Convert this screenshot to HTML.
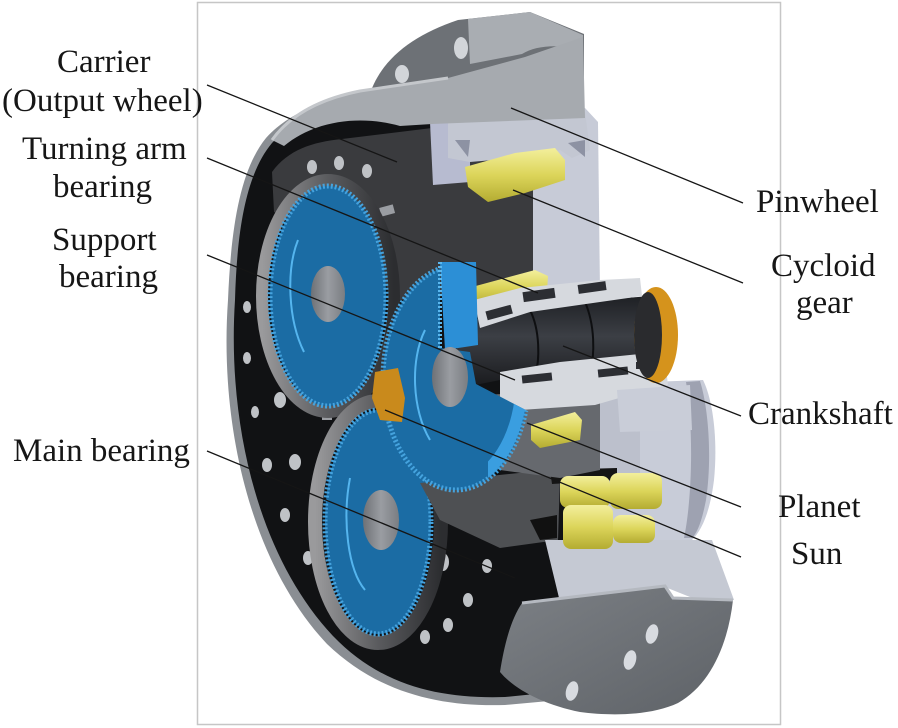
<!DOCTYPE html>
<html><head><meta charset="utf-8"><style>
html,body{margin:0;padding:0;background:#fff;}
svg{display:block;}
text{font-family:"Liberation Serif",serif;font-size:33px;fill:#161616;}
</style></head><body>
<svg width="898" height="728" viewBox="0 0 898 728" xmlns="http://www.w3.org/2000/svg">
<defs>
<linearGradient id="gy" x1="0" y1="0" x2="0" y2="1"><stop offset="0" stop-color="#f3ef9c"/><stop offset="0.5" stop-color="#dcd55a"/><stop offset="1" stop-color="#b4ac32"/></linearGradient>
<linearGradient id="gring" x1="0" y1="0" x2="1" y2="0"><stop offset="0" stop-color="#9a9a9c"/><stop offset="0.5" stop-color="#5a5b5e"/><stop offset="1" stop-color="#2c2d30"/></linearGradient>
<linearGradient id="gcr" x1="0" y1="0" x2="0" y2="1"><stop offset="0" stop-color="#1e2024"/><stop offset="0.45" stop-color="#3c3f45"/><stop offset="1" stop-color="#1a1b1e"/></linearGradient>
<linearGradient id="ghub" x1="0" y1="0" x2="1" y2="0"><stop offset="0" stop-color="#6e7176"/><stop offset="0.5" stop-color="#9a9da2"/><stop offset="1" stop-color="#7a7d82"/></linearGradient>
<linearGradient id="gfl" x1="0" y1="0" x2="1" y2="1"><stop offset="0" stop-color="#7c8085"/><stop offset="1" stop-color="#5e6267"/></linearGradient>
<clipPath id="midclip"><path d="M350,250 L440,250 L440,348 L470,352 L476,384 L545,420 L545,520 L350,520 Z"/></clipPath>
<clipPath id="rclip"><path d="M488,395 L545,395 L545,500 L488,500 Z"/></clipPath>
</defs>

<rect x="197.5" y="2.5" width="583" height="722" fill="#fff" stroke="#c6c6c6" stroke-width="1.5"/>

<!-- back top flange -->
<path d="M368,100 C378,62 410,36 458,20 L530,12 L584,34 L584,92 L368,108 Z" fill="#6d7176"/>
<ellipse cx="461" cy="48" rx="7" ry="11" fill="#d2d5d9"/>
<ellipse cx="402" cy="74" rx="7" ry="9" fill="#d2d5d9"/>
<path d="M468,19 L530,12 L583,35 L583,50 C560,44 536,45 522,54 L470,64 Z" fill="#a9adb2"/>

<!-- disk rim & face -->
<path d="M445,88 C358,86 296,104 266,138 C240,170 231,228 228,300 C219,426 251,563 327,644 C378,693 440,707 505,705 L560,700 L575,560 L575,130 Z" fill="#8a8e93"/>
<path d="M445,95 C362,93 302,110 272,143 C246,174 237,230 235,300 C227,423 258,556 333,636 C381,686 440,699 505,697 L555,692 L570,560 L570,135 Z" fill="#111214"/>

<!-- upper dark face -->
<path d="M272,172 C288,150 312,142 342,139 L432,128 L536,182 L536,296 L445,296 L400,300 L360,260 L274,212 Z" fill="#3a3b3e"/>

<!-- right light slab -->
<path d="M533,112 L585,108 L598,122 L600,292 L533,296 Z" fill="#c7cbd7"/>
<!-- lower right cylinder -->
<path d="M572,385 L703,380 C713,400 718,440 714,480 C710,512 702,530 692,540 L572,542 Z" fill="#c8ccd8"/>
<path d="M686,382 L700,381 C709,410 712,460 706,500 C702,520 698,532 692,538 L684,538 C692,500 694,430 686,382 Z" fill="#9ea2b1"/>
<path d="M572,385 L640,384 L640,500 L572,500 Z" fill="#bcc0cc"/>

<!-- holes -->
<g fill="#bfc2c6">
<ellipse cx="312" cy="167" rx="5" ry="7"/><ellipse cx="339" cy="163" rx="5" ry="7"/><ellipse cx="367" cy="171" rx="5" ry="7"/>
<ellipse cx="363" cy="222" rx="6" ry="8"/>
<ellipse cx="247" cy="307" rx="4" ry="6"/><ellipse cx="247" cy="358" rx="4" ry="6"/>
<ellipse cx="255" cy="412" rx="4" ry="6"/><ellipse cx="280" cy="400" rx="6" ry="8"/>
<ellipse cx="267" cy="465" rx="5" ry="7"/><ellipse cx="295" cy="462" rx="6" ry="8"/>
<ellipse cx="285" cy="515" rx="5" ry="7"/><ellipse cx="308" cy="558" rx="5" ry="7"/>
<ellipse cx="463" cy="518" rx="6" ry="9"/><ellipse cx="443" cy="562" rx="6" ry="9"/>
<ellipse cx="468" cy="600" rx="5" ry="7"/><ellipse cx="448" cy="625" rx="5" ry="7"/>
<ellipse cx="425" cy="637" rx="5" ry="7"/><ellipse cx="487" cy="566" rx="5" ry="7"/>
</g>
<rect x="380" y="206" width="14" height="9" fill="#9a9da2" transform="rotate(-15 387 210)"/>
<rect x="322" y="410" width="10" height="10" fill="#9a9da2"/>

<!-- upper-left gear -->
<ellipse cx="328" cy="296" rx="66" ry="116" fill="none" stroke="url(#gring)" stroke-width="12"/>
<ellipse cx="328" cy="296" rx="58" ry="110" fill="#1b6ca4" stroke="#45a3de" stroke-width="5" stroke-dasharray="2 2"/>
<path d="M298,240 C286,270 288,320 304,352" stroke="#55b5ee" stroke-width="2" fill="none"/>
<ellipse cx="328" cy="294" rx="17" ry="28" fill="url(#ghub)"/>

<!-- lower gear -->
<ellipse cx="378" cy="522" rx="63" ry="121" fill="none" stroke="url(#gring)" stroke-width="14"/>
<ellipse cx="378" cy="522" rx="53" ry="112" fill="#1b6ca4" stroke="#45a3de" stroke-width="5" stroke-dasharray="2 2"/>
<path d="M350,478 C342,520 348,570 365,590" stroke="#55b5ee" stroke-width="2" fill="none"/>
<ellipse cx="381" cy="520" rx="18" ry="30" fill="url(#ghub)"/>

<!-- lower carrier section -->
<path d="M420,483 L548,470 L560,478 L558,540 L500,548 L440,520 Z" fill="#4e5053"/>
<path d="M530,520 L557,515 L557,538 L540,540 Z" fill="#111"/>
<path d="M550,470 L617,468 L617,480 L552,484 Z" fill="#151515"/>

<!-- medium gray region -->
<path d="M480,395 L600,390 L600,470 L560,478 L500,470 Z" fill="#66696e"/>

<!-- lower housing top surface -->
<path d="M545,540 L712,540 L734,600 L700,601 L665,587 L560,602 Z" fill="#c5c9d3"/>

<!-- light strips under top housing -->
<path d="M430,122 L470,120 L470,182 L433,185 Z" fill="#b7bbd0"/>
<path d="M448,118 L585,112 L590,150 L572,158 L560,150 L540,156 L470,162 L448,158 Z" fill="#c3c7d2"/>
<path d="M455,140 L470,140 L468,157 Z" fill="#8d92a3"/>
<path d="M568,143 L585,140 L585,157 Z" fill="#8d92a3"/>

<!-- top housing -->
<path d="M272,140 C292,112 325,98 360,91 L448,78 L525,57 L583,37 L585,118 L432,124 L400,126 C365,116 318,118 284,146 Z" fill="#a6aaaf"/>
<path d="M272,140 C292,112 325,98 360,91 L448,78" fill="none" stroke="#c4c7cb" stroke-width="3"/>

<!-- yellow pins -->
<path d="M465,167 L515,153 L555,148 L565,160 L565,180 L525,193 L488,202 L468,187 Z" fill="url(#gy)"/>
<path d="M472,287 L535,270 L548,276 L547,292 L490,305 L474,303 Z" fill="url(#gy)"/>
<path d="M531,425 L575,412 L582,420 L580,440 L540,448 L531,440 Z" fill="url(#gy)"/>
<rect x="560" y="476" width="50" height="32" rx="8" fill="url(#gy)"/>
<rect x="610" y="473" width="52" height="36" rx="8" fill="url(#gy)"/>
<rect x="563" y="505" width="50" height="44" rx="8" fill="url(#gy)"/>
<rect x="613" y="515" width="42" height="28" rx="8" fill="url(#gy)"/>

<!-- crankshaft -->
<path d="M450,330 L480,318 L530,310 L600,300 L650,296 L657,374 L600,372 L520,376 L470,386 Z" fill="url(#gcr)"/>
<path d="M530,310 C540,330 540,360 535,376" stroke="#0e0f11" stroke-width="2" fill="none"/>
<path d="M585,302 C595,325 595,355 590,372" stroke="#0e0f11" stroke-width="2" fill="none"/>
<!-- top bearings -->
<path d="M474,300 L520,288 L600,280 L640,278 L642,296 L600,302 L530,312 L480,328 Z" fill="#d6d9de"/>
<rect x="523" y="290" width="32" height="10" fill="#2c2e33" transform="rotate(-8 539 295)"/>
<rect x="578" y="283" width="28" height="9" fill="#2c2e33" transform="rotate(-8 592 287)"/>
<rect x="486" y="308" width="26" height="9" fill="#2c2e33" transform="rotate(-15 499 312)"/>
<!-- bottom bearings -->
<path d="M500,372 L560,362 L640,354 L665,360 L668,385 L640,392 L595,405 L520,410 L500,400 Z" fill="#d6d9de"/>
<rect x="522" y="374" width="30" height="8" fill="#2c2e33" transform="rotate(-6 537 378)"/>
<rect x="598" y="368" width="30" height="8" fill="#2c2e33" transform="rotate(-6 613 372)"/>
<rect x="636" y="362" width="20" height="7" fill="#2c2e33"/>
<path d="M617,390 L690,385 L692,430 L620,432 Z" fill="#c9cdd8"/>
<!-- orange end -->
<ellipse cx="656" cy="335" rx="22" ry="48" fill="#d5931c"/>
<ellipse cx="648" cy="335" rx="14" ry="43" fill="#2a2b2e"/>

<!-- middle gear -->
<g clip-path="url(#midclip)">
<ellipse cx="456" cy="378" rx="73" ry="112" fill="#1b6ca4" stroke="#45a3de" stroke-width="5" stroke-dasharray="2 2"/>
<g clip-path="url(#rclip)">
<ellipse cx="456" cy="378" rx="66" ry="105" fill="none" stroke="#3a9ee0" stroke-width="12"/>
</g>
<path d="M425,330 C410,360 412,410 430,440" stroke="#55b5ee" stroke-width="2" fill="none"/>
</g>
<path d="M440,262 L476,262 L478,345 L445,350 Z" fill="#2c8fd6"/>
<path d="M440,262 L440,350" stroke="#5ab8f0" stroke-width="4" stroke-dasharray="2 2"/>
<ellipse cx="450" cy="377" rx="18" ry="30" fill="url(#ghub)"/>

<!-- sun -->
<path d="M375,372 L398,368 L405,398 L402,422 L380,420 L372,398 Z" fill="#c98a1c"/>

<!-- lower flange -->
<path d="M522,603 L665,586 L673,598 L733,600 C728,645 710,685 678,703 C650,716 610,716 580,712 C545,705 515,690 500,672 C505,640 512,618 522,603 Z" fill="url(#gfl)"/>
<path d="M522,603 L665,586 L673,598 L733,600" fill="none" stroke="#b5b9c0" stroke-width="3"/>
<g fill="#d8dbe0">
<ellipse cx="652" cy="634" rx="6" ry="10" transform="rotate(15 652 634)"/>
<ellipse cx="630" cy="660" rx="6" ry="10" transform="rotate(15 630 660)"/>
<ellipse cx="572" cy="691" rx="6" ry="10" transform="rotate(15 572 691)"/>
</g>

<!-- leader lines -->
<g stroke="#151515" stroke-width="1.3" fill="none">
<path d="M207,85 L397,162"/>
<path d="M207,158 L538,293"/>
<path d="M207,255 L515,380"/>
<path d="M207,451 L515,578"/>
<path d="M743,203 L511,108"/>
<path d="M743,283 L513,190"/>
<path d="M741,416 L563,346"/>
<path d="M741,507 L527,423"/>
<path d="M741,557 L385,410"/>
</g>

<!-- labels -->
<text x="57" y="72">Carrier</text>
<text x="2" y="111">(Output wheel)</text>
<text x="22" y="159">Turning arm</text>
<text x="53" y="197">bearing</text>
<text x="52" y="250">Support</text>
<text x="59" y="287">bearing</text>
<text x="13" y="461">Main bearing</text>
<text x="756" y="212">Pinwheel</text>
<text x="771" y="276">Cycloid</text>
<text x="796" y="313">gear</text>
<text x="748" y="424">Crankshaft</text>
<text x="778" y="517">Planet</text>
<text x="791" y="564">Sun</text>
</svg>
</body></html>
